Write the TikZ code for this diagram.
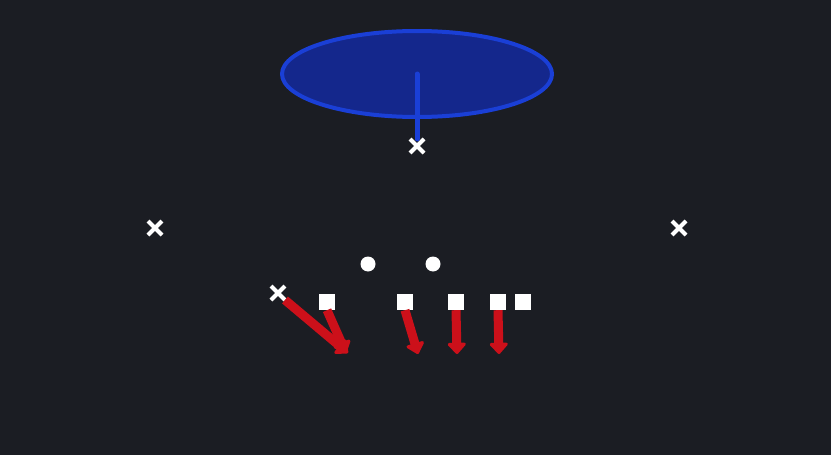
\documentclass[tikz,border=0pt]{standalone}
\usepackage{tikz}
\usetikzlibrary{shapes.geometric,shapes.misc,arrows.meta}
\definecolor{fieldbg}{HTML}{1B1D23}
\definecolor{zonefill}{HTML}{14278C}
\definecolor{zoneline}{HTML}{1A3FD6}
\definecolor{routered}{HTML}{CC101A}

\begin{document}
\begin{tikzpicture}[x=1pt, y=-1pt,
        defender/.style={draw=white, cross out, line width=4pt, minimum size=10pt, inner sep=0pt},
        lineman/.style={fill=white, rectangle, minimum size=16pt, inner sep=0pt},
        back/.style={fill=white, circle, minimum size=15pt, inner sep=0pt},
        block/.style={draw=routered, line width=9pt, -{Triangle[length=12pt, width=21pt, round]}}]
        % Field
        \fill[fieldbg] (0,0) rectangle (831,455);
        \useasboundingbox (0,0) rectangle (831,455);

        % Deep zone
        \node (zone) [ellipse, draw=zoneline, fill=zonefill, line width=4pt,
            minimum width=270pt, minimum height=86pt] at (417,74) {};

        % Defenders
        \node (safety) [defender] at (417,146) {};
        \node (leftcb) [defender] at (155,228) {};
        \node (rightcb) [defender] at (679,228) {};
        \node (edge) [defender] at (278,293) {};

        % Backs
        \node (backleft) [back] at (368,264) {};
        \node (backright) [back] at (433,264) {};

        % Line
        \node (lt) [lineman] at (327,302) {};
        \node (lg) [lineman] at (405,302) {};
        \node (c) [lineman] at (456,302) {};
        \node (rg) [lineman] at (498,302) {};
        \node (rt) [lineman] at (523,302) {};

        % Route ends
        \coordinate (edgeend) at (348,353);
        \coordinate (ltend) at (346,353);
        \coordinate (lgend) at (418,354);
        \coordinate (cend) at (457,354);
        \coordinate (rgend) at (499,354);

        % Zone drop
        \draw[zoneline, line width=5pt, line cap=round] (zone.center) -- (safety.north);

        % Blocks
        \draw[block] (edge.south east) -- (edgeend);
        \draw[block] (lt.south) -- (ltend);
        \draw[block] (lg.south) -- (lgend);
        \draw[block] (c.south) -- (cend);
        \draw[block] (rg.south) -- (rgend);
    \end{tikzpicture}
\end{document}
